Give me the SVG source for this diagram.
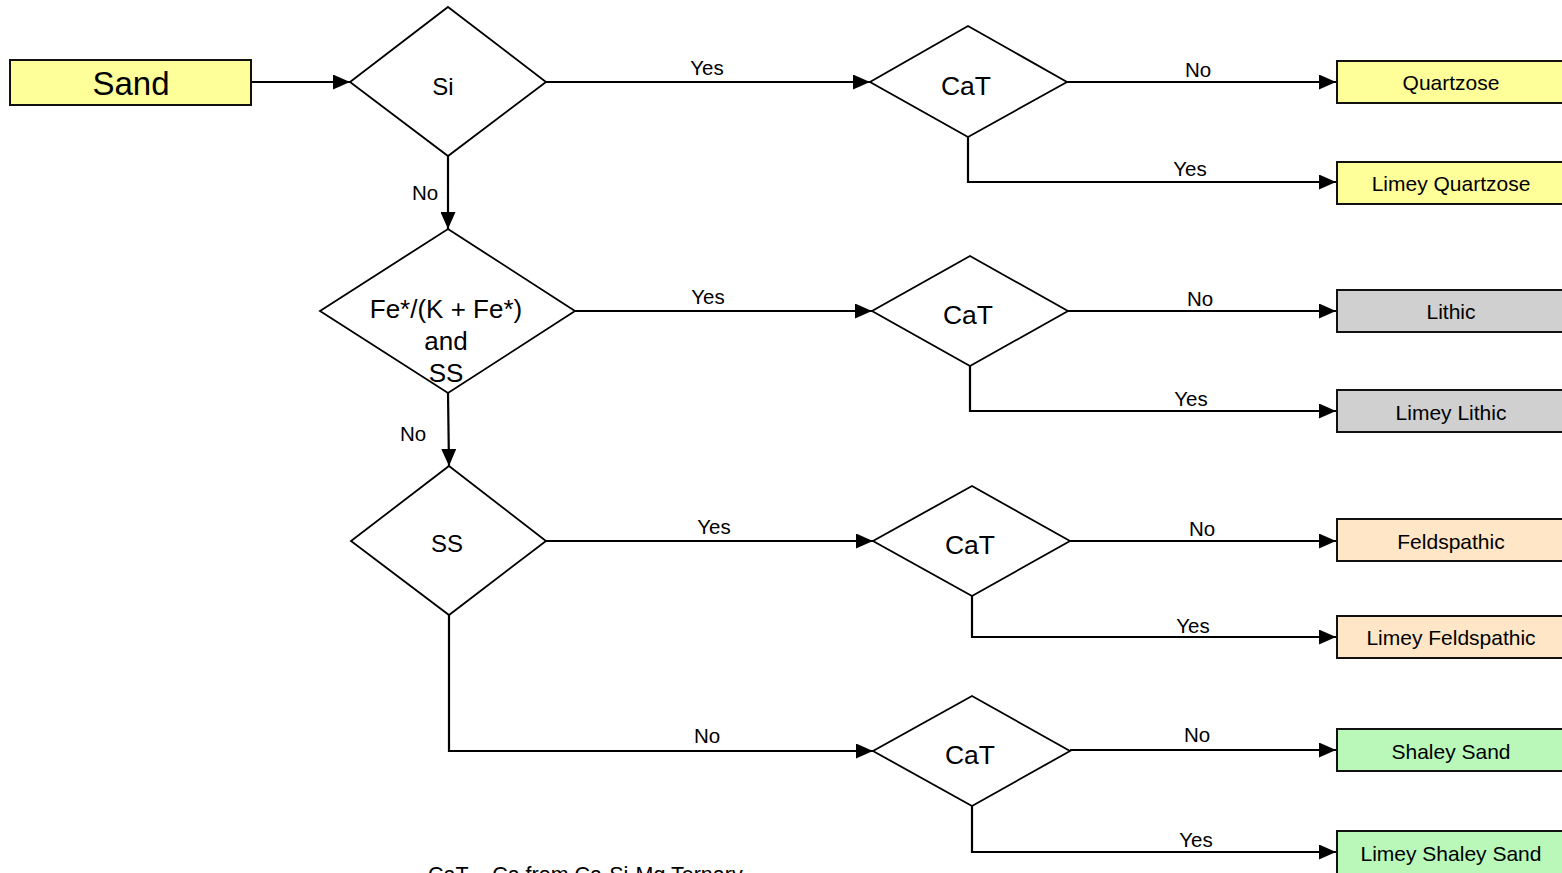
<svg xmlns="http://www.w3.org/2000/svg" width="1562" height="873" viewBox="0 0 1562 873">
<defs>
<marker id="arr" markerWidth="17" markerHeight="15" refX="17" refY="7.5" orient="auto" markerUnits="userSpaceOnUse">
<path d="M0,0 L17,7.5 L0,15 Z" fill="#000"/>
</marker>
<style>
text{font-family:"Liberation Sans",Arial,sans-serif;fill:#000}
.dia{fill:#fff;stroke:#000;stroke-width:1.8}
.box{stroke:#111;stroke-width:2}
.y{fill:#FFFF99}.g{fill:#D0D0D0}.p{fill:#FFE6C6}.gr{fill:#B9F8B9}
.c{fill:none;stroke:#000;stroke-width:2.2;marker-end:url(#arr)}
.lbl{font-size:20.5px;text-anchor:middle}
.bt{font-size:21px;text-anchor:middle}
.dt{font-size:26.5px;text-anchor:middle}
</style>
</defs>
<rect width="1562" height="873" fill="#fff"/>

<g id="connectors">
<path class="c" d="M251,82 H350"/>
<path class="c" d="M546,82 H870"/>
<path class="c" d="M1067,82 H1336"/>
<path class="c" d="M968,137 V182 H1336"/>
<path class="c" d="M448,156 V229"/>
<path class="c" d="M575,311 H872"/>
<path class="c" d="M1068,311 H1336"/>
<path class="c" d="M970,366 V411 H1336"/>
<path class="c" d="M448,393 L449,466"/>
<path class="c" d="M546,541 H873"/>
<path class="c" d="M1070,541 H1336"/>
<path class="c" d="M972,596 V637 H1336"/>
<path class="c" d="M449,615 V751 H873"/>
<path class="c" d="M1070,750 H1336"/>
<path class="c" d="M972,806 V852 H1336"/>
<g>
<text x="707" y="75" class="lbl">Yes</text>
<text x="1198" y="77" class="lbl">No</text>
<text x="1190" y="176" class="lbl">Yes</text>
<text x="425" y="200" class="lbl">No</text>
<text x="708" y="304" class="lbl">Yes</text>
<text x="1200" y="306" class="lbl">No</text>
<text x="1191" y="406" class="lbl">Yes</text>
<text x="413" y="441" class="lbl">No</text>
<text x="714" y="534" class="lbl">Yes</text>
<text x="1202" y="536" class="lbl">No</text>
<text x="1193" y="633" class="lbl">Yes</text>
<text x="707" y="743" class="lbl">No</text>
<text x="1197" y="742" class="lbl">No</text>
<text x="1196" y="847" class="lbl">Yes</text>
</g>
</g>

<g id="sand"><rect class="box y" x="10" y="60" width="241" height="45"/><text x="131" y="95" font-size="33" text-anchor="middle">Sand</text></g>

<g id="si"><polygon class="dia" points="448,7 546,82 448,156 350,82"/><text x="443" y="95" font-size="24" text-anchor="middle">Si</text></g>
<g id="fe"><polygon class="dia" points="448,229 575,311 448,393 320,311"/>
<text x="446" y="318" font-size="26" text-anchor="middle">Fe*/(K + Fe*)</text>
<text x="446" y="350" font-size="26" text-anchor="middle">and</text>
<text x="446" y="382" font-size="26" text-anchor="middle">SS</text></g>
<g id="ss"><polygon class="dia" points="449,466 546,541 449,615 351,541"/><text x="447" y="552" font-size="24" text-anchor="middle">SS</text></g>

<g id="cat1"><polygon class="dia" points="968,26 1067,82 968,137 870,82"/><text x="966" y="95" class="dt">CaT</text></g>
<g id="cat2"><polygon class="dia" points="970,256 1068,311 970,366 872,311"/><text x="968" y="324" class="dt">CaT</text></g>
<g id="cat3"><polygon class="dia" points="972,486 1070,541 972,596 873,541"/><text x="970" y="554" class="dt">CaT</text></g>
<g id="cat4"><polygon class="dia" points="972,696 1070,751 972,806 873,751"/><text x="970" y="764" class="dt">CaT</text></g>

<g id="quartzose"><rect class="box y" x="1337" y="61" width="230" height="42"/><text x="1451" y="90" class="bt">Quartzose</text></g>
<g id="limey-quartzose"><rect class="box y" x="1337" y="162" width="230" height="42"/><text x="1451" y="191" class="bt">Limey Quartzose</text></g>
<g id="lithic"><rect class="box g" x="1337" y="290" width="230" height="42"/><text x="1451" y="319" class="bt">Lithic</text></g>
<g id="limey-lithic"><rect class="box g" x="1337" y="390" width="230" height="42"/><text x="1451" y="420" class="bt">Limey Lithic</text></g>
<g id="feldspathic"><rect class="box p" x="1337" y="519" width="230" height="42"/><text x="1451" y="549" class="bt">Feldspathic</text></g>
<g id="limey-feldspathic"><rect class="box p" x="1337" y="616" width="230" height="42"/><text x="1451" y="645" class="bt">Limey Feldspathic</text></g>
<g id="shaley-sand"><rect class="box gr" x="1337" y="729" width="230" height="42"/><text x="1451" y="759" class="bt">Shaley Sand</text></g>
<g id="limey-shaley-sand"><rect class="box gr" x="1337" y="831" width="230" height="44"/><text x="1451" y="861" class="bt">Limey Shaley Sand</text></g>

<g id="note"><text x="428" y="882" font-size="21.5">CaT – Ca from Ca-Si-Mg Ternary</text></g>
</svg>
